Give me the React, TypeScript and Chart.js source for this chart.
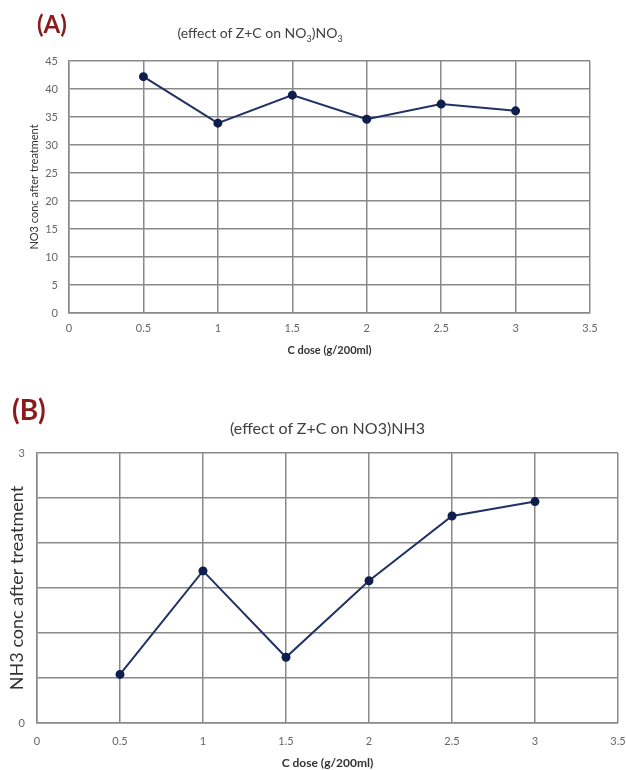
import React, { useEffect, useRef } from "react";
import { Chart, registerables } from "chart.js";

Chart.register(...registerables);

const doses = [0.5, 1, 1.5, 2, 2.5, 3];
const no3Values = [42.2, 33.9, 38.9, 34.6, 37.3, 36.1];
const nh3Values = [0.54, 1.69, 0.73, 1.58, 2.3, 2.46];
const xTitle = "C dose (g/200ml)";
const yTitleA = "NO3 conc after treatment";
const yTitleB = "NH3 conc after treatment";
const yLabelsB = [0, 3];

const FONT = "Lato, 'Open Sans', sans-serif";
const GRID = "#8a8a8a";
const LINE = "#203264";
const POINT = "#0f1f4d";
const TICK = "#666666";

function makeConfig(opts: any) {
  return {
    type: "line",
    data: {
      datasets: [
        {
          data: opts.xs.map((x: number, i: number) => ({ x, y: opts.ys[i] })),
          borderColor: LINE,
          borderWidth: 2,
          backgroundColor: POINT,
          pointBackgroundColor: POINT,
          pointBorderColor: POINT,
          pointRadius: 3.5,
          tension: 0,
          fill: false,
        },
      ],
    },
    options: {
      responsive: false,
      animation: false,
      layout: { padding: { top: opts.padTop, right: opts.padRight, left: 0, bottom: 0 } },
      plugins: { legend: { display: false }, title: { display: false }, tooltip: { enabled: false } },
      scales: {
        x: {
          type: "linear",
          min: 0,
          max: 3.5,
          ticks: {
            stepSize: 0.5,
            padding: opts.xTickPad,
            color: TICK,
            font: { family: FONT, size: opts.tickSize },
            maxRotation: 0,
            callback: (v: any) => String(v),
          },
          grid: { color: GRID, lineWidth: 1.5, drawTicks: false },
          border: { color: GRID, width: 1.5 },
          title: {
            display: true,
            text: xTitle,
            color: "#333",
            font: { family: FONT, size: opts.xTitleSize, weight: "bold" },
            padding: { top: 0, bottom: opts.xTitlePadBottom },
          },
          afterFit: (s: any) => {
            s.height = opts.xHeight;
            s.paddingLeft = 0;
            s.paddingRight = 0;
          },
        },
        y: {
          min: 0,
          max: opts.yMax,
          ticks: {
            stepSize: opts.yStep,
            padding: opts.yTickPad,
            color: TICK,
            font: { family: FONT, size: opts.tickSize },
            callback: opts.yCallback,
          },
          grid: { color: GRID, lineWidth: 1.5, drawTicks: false },
          border: { color: GRID, width: 1.5 },
          title: {
            display: true,
            text: opts.yTitle,
            color: "#333",
            font: { family: FONT, size: opts.yTitleSize },
            padding: { top: opts.yTitlePadTop, bottom: 0 },
          },
          afterFit: (s: any) => {
            s.width = opts.yWidth;
            s.paddingTop = 0;
            s.paddingBottom = 0;
          },
        },
      },
    },
  } as any;
}

function ChartCanvas({ width, height, config, style }: any) {
  const ref = useRef<HTMLCanvasElement | null>(null);
  useEffect(() => {
    if (!ref.current) return;
    const chart = new Chart(ref.current, config);
    return () => chart.destroy();
  }, []);
  return <canvas ref={ref} width={width} height={height} style={{ position: "absolute", ...style }} />;
}

export default function App() {
  const configA = makeConfig({
    xs: doses,
    ys: no3Values,
    padTop: 61,
    padRight: 36,
    xTickPad: 9,
    tickSize: 11,
    xTitleSize: 11,
    xTitlePadBottom: 8,
    xHeight: 52,
    yMax: 45,
    yStep: 5,
    yTickPad: 11,
    yTitle: yTitleA,
    yTitleSize: 11,
    yTitlePadTop: 28,
    yWidth: 69,
    yCallback: (v: any) => String(v),
  });
  const configB = makeConfig({
    xs: doses,
    ys: nh3Values,
    padTop: 73,
    padRight: 8,
    xTickPad: 12,
    tickSize: 11,
    xTitleSize: 12,
    xTitlePadBottom: 0,
    xHeight: 47,
    yMax: 3,
    yStep: 0.5,
    yTickPad: 12,
    yTitle: yTitleB,
    yTitleSize: 18,
    yTitlePadTop: 6,
    yWidth: 37,
    yCallback: (v: any) => (yLabelsB.includes(v) ? String(v) : ""),
  });

  return (
    <div style={{ position: "absolute", left: 0, top: 0, width: 626, height: 770, background: "#fff", overflow: "hidden", fontFamily: FONT }}>
      <ChartCanvas width={626} height={365} config={configA} style={{ left: 0, top: 0 }} />
      <ChartCanvas width={626} height={390} config={configB} style={{ left: 0, top: 380 }} />
      <div style={{ position: "absolute", left: 37, top: 9, fontSize: 24, fontWeight: "bold", color: "#8b1a1a", lineHeight: "30px" }}>(A)</div>
      <div style={{ position: "absolute", left: 12, top: 392, fontSize: 28, fontWeight: "bold", color: "#8b1a1a", lineHeight: "34px" }}>(B)</div>
      <div style={{ position: "absolute", left: 0, width: 520, top: 24, textAlign: "center", fontSize: 14, color: "#404040", lineHeight: "18px" }}>
        (effect of Z+C on NO<sub style={{ fontSize: 9 }}>3</sub>)NO<sub style={{ fontSize: 9 }}>3</sub>
      </div>
      <div style={{ position: "absolute", left: 37, width: 581, top: 418, textAlign: "center", fontSize: 16, color: "#404040", lineHeight: "20px" }}>
        (effect of Z+C on NO3)NH3
      </div>
    </div>
  );
}
